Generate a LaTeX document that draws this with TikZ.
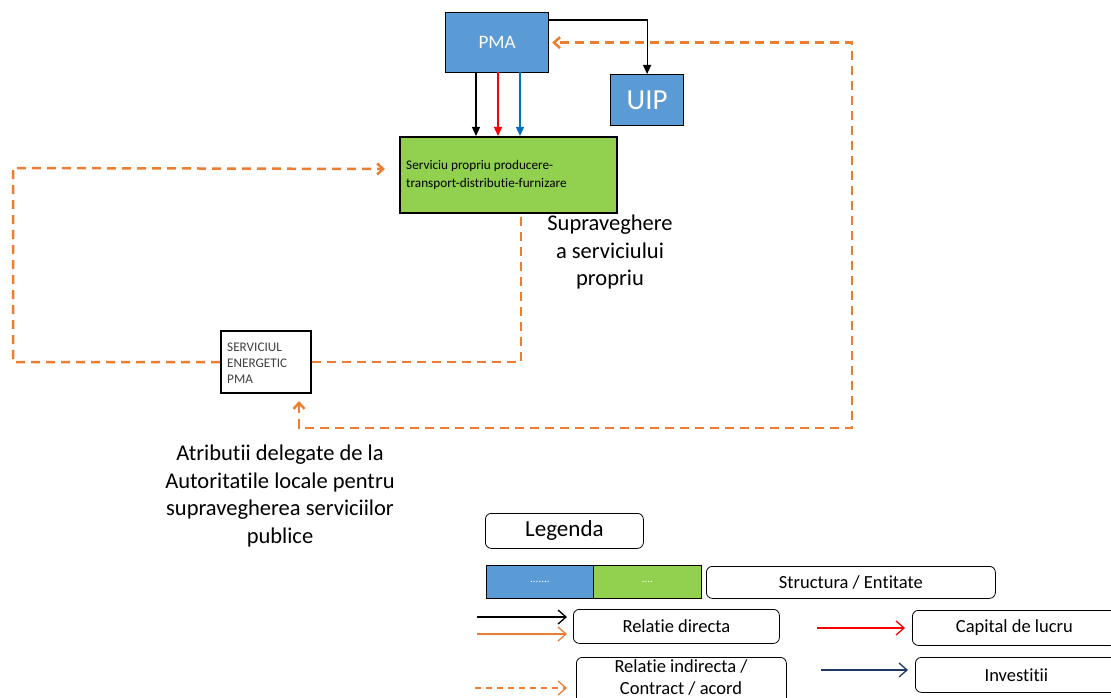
\documentclass[tikz,border=0pt]{standalone}
\usepackage{fontspec}
\setmainfont[Ligatures={NoCommon}]{Carlito}
\usetikzlibrary{arrows.meta}
\definecolor{org}{HTML}{ED7D31}
\definecolor{pmablue}{HTML}{5B9BD5}
\definecolor{grn}{HTML}{92D050}
\definecolor{arrblue}{HTML}{0070C0}
\definecolor{navy}{HTML}{203864}
\definecolor{txtgray}{HTML}{404040}
\begin{document}
\begin{tikzpicture}[x=1pt,y=-1pt,
  box/.style={draw=black, line width=1.2pt, inner sep=0pt, anchor=north west},
  lbox/.style={draw=black, line width=0.8pt, rounded corners=6pt, inner sep=0pt, anchor=north west, fill=white},
  odash/.style={draw=org, line width=2.5pt, dash pattern=on 9pt off 6pt},
  barb/.style={-{Straight Barb[length=6pt,width=11pt]}},
  dbarb/.style={{Straight Barb[length=6pt,width=11pt]}-{Straight Barb[length=6pt,width=11pt]}},
  tri/.style={-{Triangle[length=9pt,width=8pt]}, line width=1.3pt},
  legarr/.style={-{Straight Barb[length=8pt,width=14pt]}, line width=1.3pt},
  big/.style={font=\fontsize{22.5}{27.5}\selectfont, align=center},
  ltxt/.style={font=\fontsize{18.5}{22}\selectfont}
]
\useasboundingbox (0,0) rectangle (1111,698);
\clip (0,0) rectangle (1111,698);

% main nodes
\node[box, fill=pmablue, minimum width=103pt, minimum height=60pt, text=white, font=\fontsize{19}{22}\selectfont] (pma) at (445,12) {PMA};
\node[box, fill=pmablue, minimum width=73pt, minimum height=51pt, text=white, font=\fontsize{29}{32}\selectfont] (uip) at (610,74) {UIP};
\node[box, fill=grn, line width=2pt, minimum width=217pt, minimum height=76pt] (grn) at (399,136) {};
\node[anchor=north west, inner sep=0pt, align=left, font=\fontsize{13.2}{18}\selectfont] (grntxt) at (406,160) {Serviciu propriu producere-\\transport-distributie-furnizare};
\node[box, fill=white, line width=2pt, minimum width=90pt, minimum height=62pt] (serv) at (220,330) {};
\node[anchor=north west, inner sep=0pt, align=left, text=txtgray, font=\fontsize{13.2}{16}\selectfont] (servtxt) at (227,343) {SERVICIUL\\ENERGETIC\\PMA};

\node[big] (sup) at (610,252) {Supraveghere\\a serviciului\\propriu};
\node[big] (atr) at (280,496) {Atributii delegate de la\\Autoritatile locale pentru\\supravegherea serviciilor\\publice};

% coordinates
\coordinate (cr) at (852,428);
\coordinate (cl) at (13,168);

% connectors
\draw[tri, line width=1.2pt] ([yshift=-8pt]pma.north east) -| (uip.north);
\draw[tri, black] (476,72) -- (476,136);
\draw[tri, red] (498,72) -- (498,136);
\draw[tri, arrblue] (520,72) -- (520,136);

\draw[odash, dbarb] ([xshift=33pt,yshift=-7pt]serv.south) |- (cr) |- ([xshift=3pt]pma.east);
\draw[odash, barb] (serv.west) -| (cl) -- ([xshift=-14pt,yshift=6pt]grn.west);
\draw[odash] (serv.east) -| ([xshift=12.5pt]grn.south);

% legend
\node[lbox, minimum width=158pt, minimum height=35pt, font=\fontsize{23}{26}\selectfont] (leg) at (485,513) {Legenda};
\node[box, line width=0.8pt, fill=pmablue, minimum width=107pt, minimum height=33pt, text=white, font=\fontsize{11}{12}\selectfont] (lb) at (486,565) {.......};
\node[box, line width=0.8pt, fill=grn, minimum width=108pt, minimum height=33pt, text=white, font=\fontsize{11}{12}\selectfont] (lg) at (593,565) {....};
\node[lbox, minimum width=289pt, minimum height=32pt, ltxt] (lst) at (706,566) {Structura / Entitate};
\node[lbox, minimum width=206pt, minimum height=34pt, ltxt] (lrd) at (573,609) {Relatie directa};
\node[lbox, minimum width=210pt, minimum height=50pt] (lri) at (576,657) {};
\node[align=center, inner sep=0pt, font=\fontsize{18.5}{22}\selectfont] (lritxt) at (681,677) {Relatie indirecta /\\Contract / acord};
\node[lbox, minimum width=204pt, minimum height=35pt, ltxt] (lcap) at (912,610) {Capital de lucru};
\node[lbox, minimum width=202pt, minimum height=35pt, ltxt] (linv) at (915,657) {Investitii};

\coordinate (a1) at (477,617);
\coordinate (a2) at (477,634);
\coordinate (a3) at (475,688);
\coordinate (a4) at (817,628);
\coordinate (a5) at (821,670);
\coordinate (e1) at (567,617);
\coordinate (e2) at (567,634);
\coordinate (e3) at (567,688);
\coordinate (e4) at (905,628);
\coordinate (e5) at (908,670);
\draw[legarr, black] (a1) -- (e1);
\draw[legarr, org] (a2) -- (e2);
\draw[legarr, org, dash pattern=on 6pt off 5pt] (a3) -- (e3);
\draw[legarr, red] (a4) -- (e4);
\draw[legarr, navy] (a5) -- (e5);
\end{tikzpicture}
\end{document}
